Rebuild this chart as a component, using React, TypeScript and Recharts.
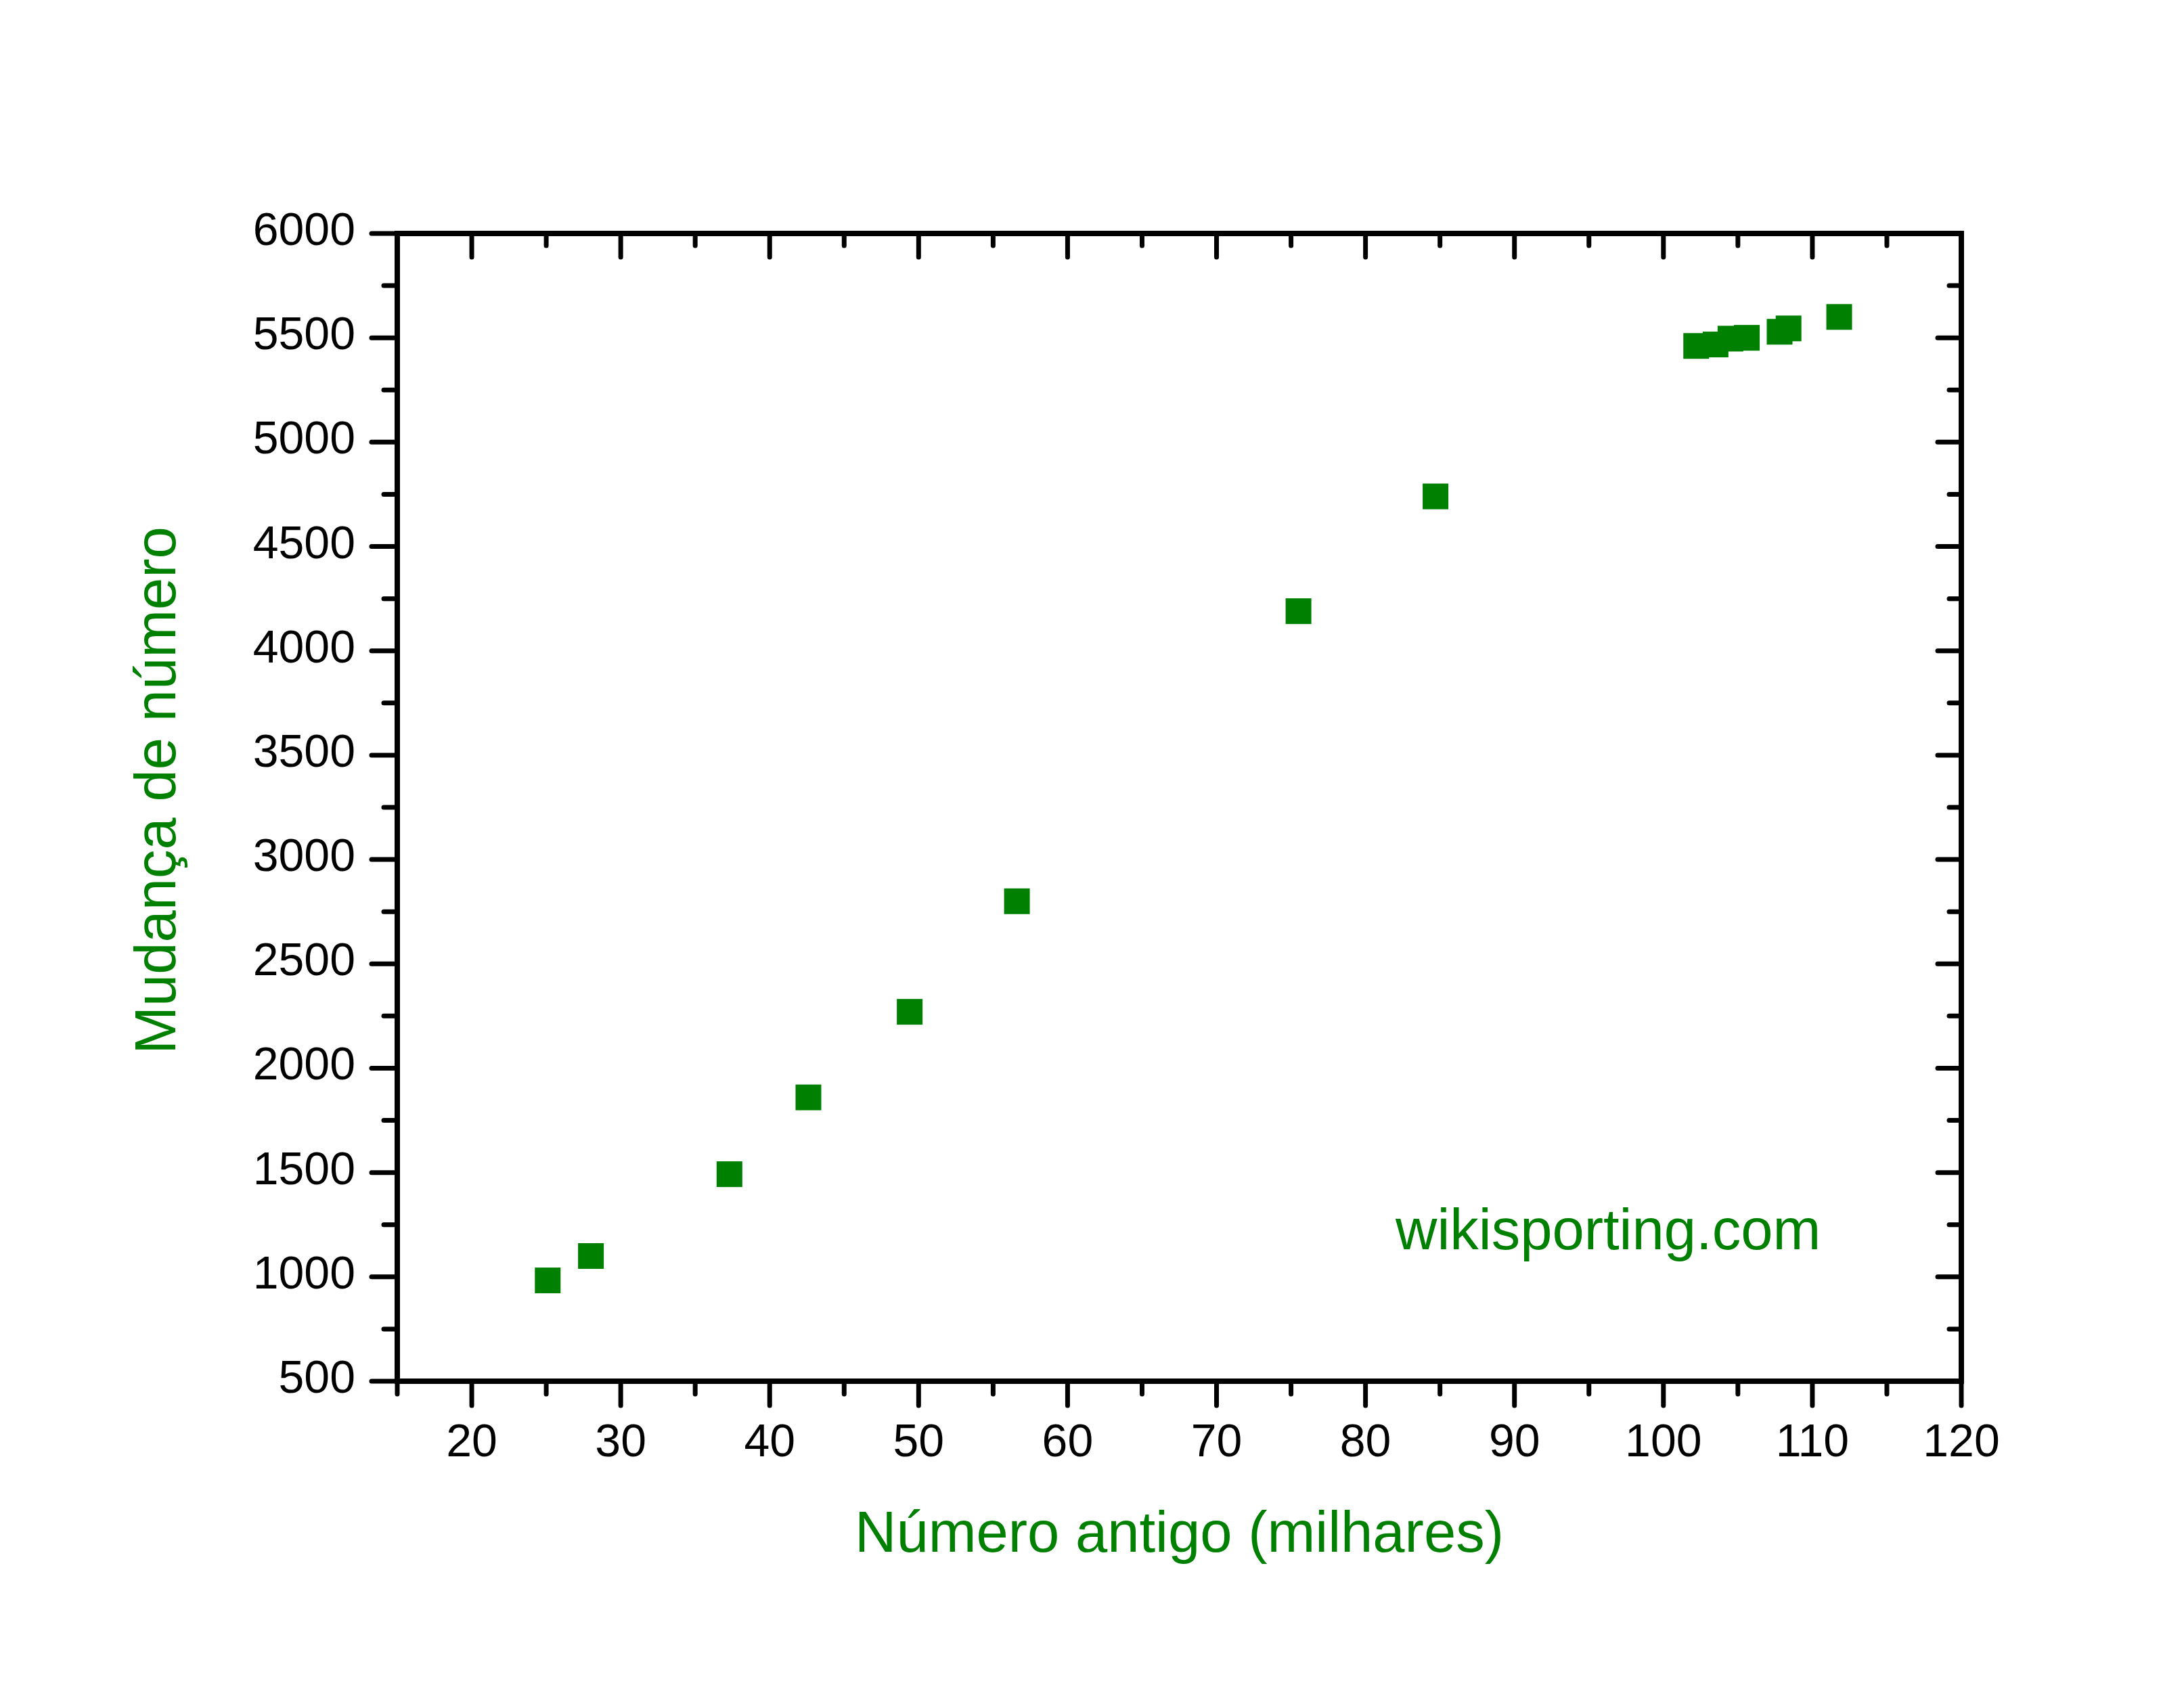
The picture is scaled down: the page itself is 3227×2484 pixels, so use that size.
import { ScatterChart, Scatter, XAxis, YAxis, Label } from 'recharts';

// old number (thousands) vs change of number
const oldNumbers = [25.1, 28.0, 37.3, 42.6, 49.4, 56.6, 75.5, 84.7, 102.2, 103.5, 104.5, 105.6, 107.8, 108.4, 111.8];
const numberChanges = [983, 1100, 1492, 1860, 2270, 2800, 4190, 4740, 5461, 5468, 5496, 5500, 5529, 5545, 5600];

const xTicks = [15, 20, 25, 30, 35, 40, 45, 50, 55, 60, 65, 70, 75, 80, 85, 90, 95, 100, 105, 110, 115, 120];
const yTicks = [
  500, 750, 1000, 1250, 1500, 1750, 2000, 2250, 2500, 2750, 3000, 3250, 3500, 3750, 4000, 4250, 4500, 4750, 5000,
  5250, 5500, 5750, 6000,
];

const xTitle = 'Número antigo (milhares)';
const yTitle = 'Mudança de número';
const watermark = 'wikisporting.com';

const green = '#008000';
const font = '"Liberation Sans", Arial, sans-serif';

const data = oldNumbers.map((x, i) => ({ x, y: numberChanges[i] }));

const W = 3227;
const H = 2484;
// axes are 1px thick in layout terms, so plot box = 587..2898 x 345..2041
const margin = { top: 344, right: 328, bottom: 442, left: 586 };

const tickStroke = { stroke: '#000', strokeWidth: 7, strokeLinecap: 'round' as const };
const axisLine = { stroke: '#000', strokeWidth: 8, strokeLinecap: 'square' as const };

function BottomTick({ x, y, payload }: any) {
  const major = payload.value % 10 === 0;
  return (
    <g>
      <line x1={x} y1={y} x2={x} y2={y + (major ? 36 : 19)} {...tickStroke} />
      {major && (
        <text x={x} y={y + 111} textAnchor="middle" fontSize={68} fontFamily={font} fill="#000">
          {payload.value}
        </text>
      )}
    </g>
  );
}

function TopTick({ x, y, payload }: any) {
  const major = payload.value % 10 === 0;
  return <line x1={x} y1={y} x2={x} y2={y + (major ? 35 : 18)} {...tickStroke} />;
}

function LeftTick({ x, y, payload }: any) {
  const major = payload.value % 500 === 0;
  return (
    <g>
      <line x1={x} y1={y} x2={x - (major ? 38 : 20)} y2={y} {...tickStroke} />
      {major && (
        <text x={x - 62} y={y + 17} textAnchor="end" fontSize={68} fontFamily={font} fill="#000">
          {payload.value}
        </text>
      )}
    </g>
  );
}

function RightTick({ x, y, payload }: any) {
  const major = payload.value % 500 === 0;
  return <line x1={x} y1={y} x2={x - (major ? 35 : 18)} y2={y} {...tickStroke} />;
}

function Square({ cx, cy }: any) {
  return <rect x={cx - 19} y={cy - 19} width={38} height={38} fill={green} />;
}

const NoMark = () => <g />;

export default function App() {
  return (
    <div style={{ position: 'absolute', left: 0, top: 0, width: W, height: H, background: '#fff' }}>
      <ScatterChart width={W} height={H} margin={margin}>
        <XAxis
          xAxisId="b"
          type="number"
          dataKey="x"
          domain={[15, 120]}
          ticks={xTicks}
          interval={0}
          height={1}
          tickSize={0}
          tickMargin={0}
          tickLine={false}
          axisLine={axisLine}
          tick={(p: any) => <BottomTick {...p} />}
        >
          <Label
            content={({ viewBox }: any) => (
              <text
                x={viewBox.x + viewBox.width / 2}
                y={viewBox.y + 252}
                textAnchor="middle"
                fontSize={85}
                fontFamily={font}
                fill={green}
              >
                {xTitle}
              </text>
            )}
          />
        </XAxis>
        <XAxis
          xAxisId="t"
          orientation="top"
          type="number"
          dataKey="x"
          domain={[15, 120]}
          ticks={xTicks}
          interval={0}
          height={1}
          tickSize={0}
          tickMargin={0}
          tickLine={false}
          axisLine={axisLine}
          tick={(p: any) => <TopTick {...p} />}
        />
        <YAxis
          yAxisId="l"
          type="number"
          dataKey="y"
          domain={[500, 6000]}
          ticks={yTicks}
          interval={0}
          width={1}
          tickSize={0}
          tickMargin={0}
          tickLine={false}
          axisLine={axisLine}
          tick={(p: any) => <LeftTick {...p} />}
        >
          <Label
            content={({ viewBox }: any) => {
              const tx = viewBox.x + viewBox.width - 328;
              const ty = viewBox.y + viewBox.height / 2 - 25;
              return (
                <text
                  x={tx}
                  y={ty}
                  transform={`rotate(-90 ${tx} ${ty})`}
                  textAnchor="middle"
                  fontSize={85}
                  fontFamily={font}
                  fill={green}
                >
                  {yTitle}
                </text>
              );
            }}
          />
        </YAxis>
        <YAxis
          yAxisId="r"
          orientation="right"
          type="number"
          dataKey="y"
          domain={[500, 6000]}
          ticks={yTicks}
          interval={0}
          width={1}
          tickSize={0}
          tickMargin={0}
          tickLine={false}
          axisLine={axisLine}
          tick={(p: any) => <RightTick {...p} />}
        />
        {/* invisible twin so the top/right frame axes get a domain and draw their ticks */}
        <Scatter data={data} xAxisId="t" yAxisId="r" shape={<NoMark />} isAnimationActive={false} />
        <Scatter data={data} xAxisId="b" yAxisId="l" shape={<Square />} isAnimationActive={false} />
      </ScatterChart>
      <svg width={W} height={H} style={{ position: 'absolute', left: 0, top: 0, pointerEvents: 'none' }}>
        <text x={2062} y={1846} fontSize={85} fontFamily={font} fill={green}>
          {watermark}
        </text>
      </svg>
    </div>
  );
}
